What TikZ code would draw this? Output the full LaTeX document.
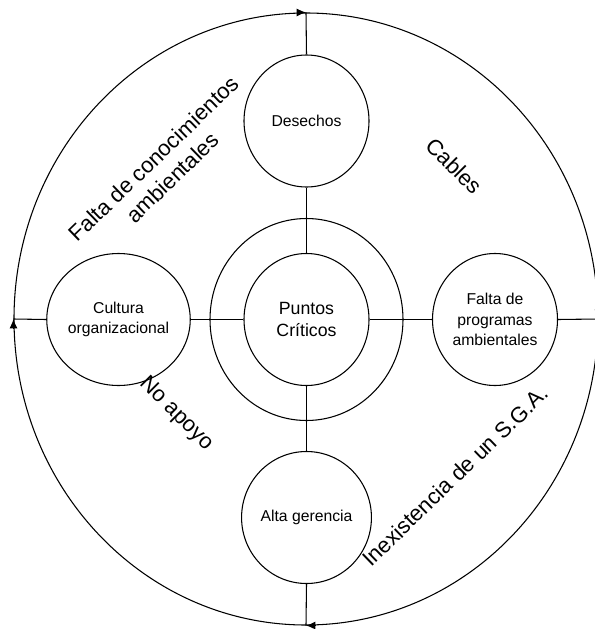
\documentclass[tikz,border=0pt]{standalone}
\usepackage{fontspec}
\setmainfont{Liberation Sans}
\usetikzlibrary{shapes.geometric,arrows.meta}
\tikzset{
  ring/.style={draw, ellipse, line width=0.8pt, inner sep=0pt},
  topic/.style={ring, minimum width=93.75pt, minimum height=99pt, align=center,
    font=\fontsize{11.8}{15.4}\selectfont},
  core/.style={ring, minimum width=93.75pt, minimum height=99pt, align=center,
    font=\fontsize{13.3}{16.5}\selectfont},
  link/.style={line width=0.8pt},
  flow/.style={line width=0.8pt, -{Latex[length=7pt,width=6pt]}},
  cause/.style={align=center, inner sep=0pt, font=\fontsize{16.5}{20}\selectfont}
}
\begin{document}
\begin{tikzpicture}[x=0.75pt, y=-0.75pt]
\useasboundingbox (0,0) rectangle (595,629);

% outer cycle and central rings
\node[ring, minimum width=438pt, minimum height=459pt] (outer) at (306,319) {};
\node[ring, minimum width=144.75pt, minimum height=151.5pt] (halo) at (306.5,319.5) {};
\node[core] (inner) at (306.5,319.5) {Puntos\\Críticos};

% the four surrounding topics
\node[topic] (des)   at (306.5,121) {Desechos};
\node[topic] (cult)  at (118.5,319.5) {Cultura\\organizacional};
\node[topic] (falta) at (495,319.5) {Falta de\\programas\\ambientales};
\node[topic] (alta)  at (306.5,517.5) {Alta gerencia};

% spokes
\draw[link] (outer.north) -- (des.north);
\draw[link] (des.south) -- (inner.north);
\draw[link] (inner.south) -- (alta.north);
\draw[link] (alta.south) -- (outer.south);
\draw[link] (outer.west) -- (cult.west);
\draw[link] (cult.east) -- (inner.west);
\draw[link] (inner.east) -- (falta.west);
\draw[link] (falta.east) -- (outer.east);

% clockwise arrowheads on the outer cycle
\draw[flow] ([xshift=-7pt]outer.north) -- (outer.north);
\draw[flow] ([yshift=7pt]outer.east) -- (outer.east);
\draw[flow] ([xshift=7pt]outer.south) -- (outer.south);
\draw[flow] ([yshift=-7pt]outer.west) -- (outer.west);

% causes written along the quadrants
\node[cause, rotate=44] (c1) at (163,168) {Falta de conocimientos\\ambientales};
\node[cause, rotate=-45] (c2) at (454,166) {Cables};
\node[cause, rotate=-45] (c3) at (176,414) {No apoyo};
\node[cause, rotate=44] (c4) at (455,476) {Inexistencia de un S.G.A.};
\end{tikzpicture}
\end{document}
